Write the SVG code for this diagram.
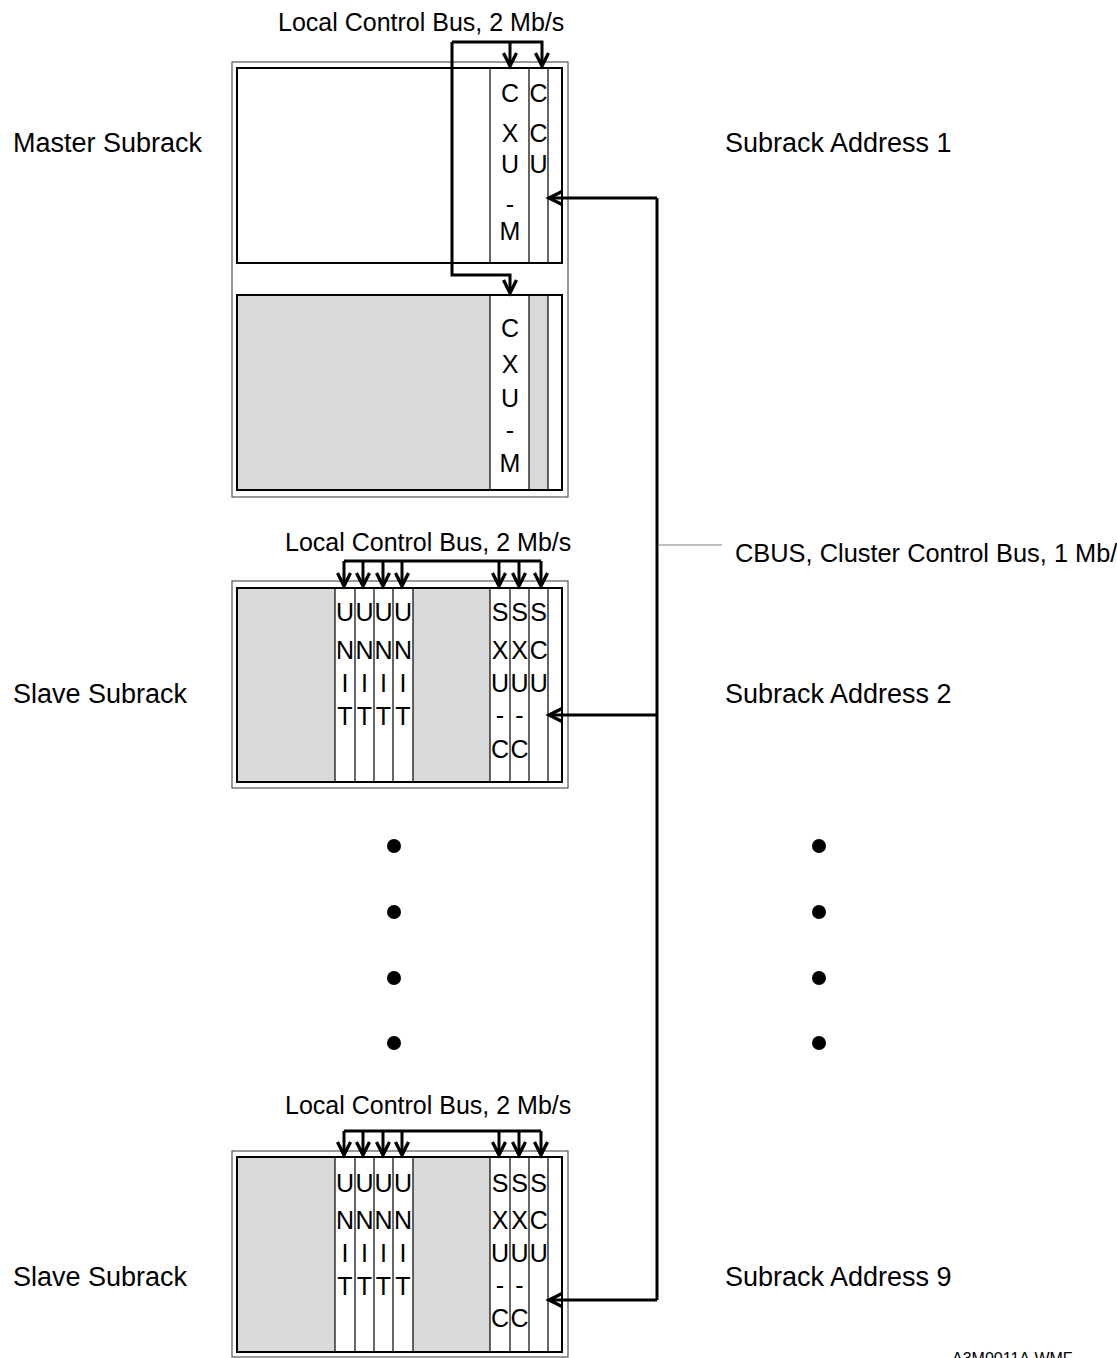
<svg xmlns="http://www.w3.org/2000/svg" width="1117" height="1358" viewBox="0 0 1117 1358">
<defs>
<style>
text{font-family:"Liberation Sans",Arial,Helvetica,sans-serif;fill:#000}
.lbl{font-size:27px}
.bus{font-size:25px}
.cbus{font-size:25.4px}
.col{font-size:25px;text-anchor:middle}
.outer{fill:#fff;stroke:#555;stroke-width:1.2}
.inner{fill:none;stroke:#000;stroke-width:2}
.bg{fill:#fff;stroke:none}
.gray{fill:#d9d9d9;stroke:none}
.div{stroke:#000;stroke-width:1.2;fill:none}
.wire{fill:none;stroke:#000;stroke-width:3}
.thin{fill:none;stroke:#808080;stroke-width:1}
.dot{fill:#000}
</style>
<marker id="arr" markerUnits="userSpaceOnUse" markerWidth="24" markerHeight="24" viewBox="-18 -12 24 24" refX="0" refY="0" orient="auto" overflow="visible">
<path d="M-13,-6.5 L0,0 L-13,6.5" fill="none" stroke="#000" stroke-width="3.3"/>
</marker>
</defs>
<rect width="1117" height="1358" fill="#fff"/>

<g id="master-subrack">
<rect class="outer" x="232" y="62" width="336" height="435"/>
<rect class="bg" x="237" y="68" width="325" height="195"/>
<line class="div" x1="490" y1="68" x2="490" y2="263"/>
<line class="div" x1="529" y1="68" x2="529" y2="263"/>
<line class="div" x1="548" y1="68" x2="548" y2="263"/>
<rect class="inner" x="237" y="68" width="325" height="195"/>
<text class="col" x="510" y="102">C</text>
<text class="col" x="510" y="142">X</text>
<text class="col" x="510" y="173">U</text>
<text class="col" x="510" y="213">-</text>
<text class="col" x="510" y="240">M</text>
<text class="col" x="538.5" y="102">C</text>
<text class="col" x="538.5" y="142">C</text>
<text class="col" x="538.5" y="173">U</text>
<rect class="bg" x="237" y="295" width="325" height="195"/>
<rect class="gray" x="237" y="295" width="253" height="195"/>
<rect class="gray" x="529" y="295" width="19" height="195"/>
<line class="div" x1="490" y1="295" x2="490" y2="490"/>
<line class="div" x1="529" y1="295" x2="529" y2="490"/>
<line class="div" x1="548" y1="295" x2="548" y2="490"/>
<rect class="inner" x="237" y="295" width="325" height="195"/>
<text class="col" x="510" y="337">C</text>
<text class="col" x="510" y="373">X</text>
<text class="col" x="510" y="407">U</text>
<text class="col" x="510" y="439">-</text>
<text class="col" x="510" y="472">M</text>
</g>

<g id="slave-subrack-2">
<rect class="outer" x="232" y="581" width="336" height="207"/>
<rect class="bg" x="237" y="588" width="325" height="194"/>
<rect class="gray" x="237" y="588" width="98" height="194"/>
<rect class="gray" x="413" y="588" width="77" height="194"/>
<g class="div">
<line x1="335" y1="588" x2="335" y2="782"/>
<line x1="355" y1="588" x2="355" y2="782"/>
<line x1="374" y1="588" x2="374" y2="782"/>
<line x1="393" y1="588" x2="393" y2="782"/>
<line x1="413" y1="588" x2="413" y2="782"/>
<line x1="490" y1="588" x2="490" y2="782"/>
<line x1="510" y1="588" x2="510" y2="782"/>
<line x1="529" y1="588" x2="529" y2="782"/>
<line x1="548" y1="588" x2="548" y2="782"/>
</g>
<rect class="inner" x="237" y="588" width="325" height="194"/>
<text class="col" x="345" y="621">U</text><text class="col" x="345" y="659">N</text><text class="col" x="345" y="692">I</text><text class="col" x="345" y="725">T</text>
<text class="col" x="364.5" y="621">U</text><text class="col" x="364.5" y="659">N</text><text class="col" x="364.5" y="692">I</text><text class="col" x="364.5" y="725">T</text>
<text class="col" x="383.5" y="621">U</text><text class="col" x="383.5" y="659">N</text><text class="col" x="383.5" y="692">I</text><text class="col" x="383.5" y="725">T</text>
<text class="col" x="403" y="621">U</text><text class="col" x="403" y="659">N</text><text class="col" x="403" y="692">I</text><text class="col" x="403" y="725">T</text>
<text class="col" x="500" y="621">S</text><text class="col" x="500" y="659">X</text><text class="col" x="500" y="692">U</text><text class="col" x="500" y="724">-</text><text class="col" x="500" y="758">C</text>
<text class="col" x="519.5" y="621">S</text><text class="col" x="519.5" y="659">X</text><text class="col" x="519.5" y="692">U</text><text class="col" x="519.5" y="724">-</text><text class="col" x="519.5" y="758">C</text>
<text class="col" x="538.7" y="621">S</text><text class="col" x="538.7" y="659">C</text><text class="col" x="538.7" y="692">U</text>
</g>

<g id="slave-subrack-9">
<rect class="outer" x="232" y="1151" width="336" height="206"/>
<rect class="bg" x="237" y="1157" width="325" height="195"/>
<rect class="gray" x="237" y="1157" width="98" height="195"/>
<rect class="gray" x="413" y="1157" width="77" height="195"/>
<g class="div">
<line x1="335" y1="1157" x2="335" y2="1352"/>
<line x1="355" y1="1157" x2="355" y2="1352"/>
<line x1="374" y1="1157" x2="374" y2="1352"/>
<line x1="393" y1="1157" x2="393" y2="1352"/>
<line x1="413" y1="1157" x2="413" y2="1352"/>
<line x1="490" y1="1157" x2="490" y2="1352"/>
<line x1="510" y1="1157" x2="510" y2="1352"/>
<line x1="529" y1="1157" x2="529" y2="1352"/>
<line x1="548" y1="1157" x2="548" y2="1352"/>
</g>
<rect class="inner" x="237" y="1157" width="325" height="195"/>
<text class="col" x="345" y="1192">U</text><text class="col" x="345" y="1229">N</text><text class="col" x="345" y="1262">I</text><text class="col" x="345" y="1295">T</text>
<text class="col" x="364.5" y="1192">U</text><text class="col" x="364.5" y="1229">N</text><text class="col" x="364.5" y="1262">I</text><text class="col" x="364.5" y="1295">T</text>
<text class="col" x="383.5" y="1192">U</text><text class="col" x="383.5" y="1229">N</text><text class="col" x="383.5" y="1262">I</text><text class="col" x="383.5" y="1295">T</text>
<text class="col" x="403" y="1192">U</text><text class="col" x="403" y="1229">N</text><text class="col" x="403" y="1262">I</text><text class="col" x="403" y="1295">T</text>
<text class="col" x="500" y="1192">S</text><text class="col" x="500" y="1229">X</text><text class="col" x="500" y="1262">U</text><text class="col" x="500" y="1294">-</text><text class="col" x="500" y="1327">C</text>
<text class="col" x="519.5" y="1192">S</text><text class="col" x="519.5" y="1229">X</text><text class="col" x="519.5" y="1262">U</text><text class="col" x="519.5" y="1294">-</text><text class="col" x="519.5" y="1327">C</text>
<text class="col" x="538.7" y="1192">S</text><text class="col" x="538.7" y="1229">C</text><text class="col" x="538.7" y="1262">U</text>
</g>

<g id="connectors">
<path class="wire" d="M452,42 H542 V66" marker-end="url(#arr)"/>
<path class="wire" d="M510,42 V66" marker-end="url(#arr)"/>
<path class="wire" d="M452,42 V275 H510 V293" marker-end="url(#arr)"/>
<path class="wire" d="M344,561 H541"/>
<path class="wire" d="M344,561 V586" marker-end="url(#arr)"/>
<path class="wire" d="M363,561 V586" marker-end="url(#arr)"/>
<path class="wire" d="M383,561 V586" marker-end="url(#arr)"/>
<path class="wire" d="M402,561 V586" marker-end="url(#arr)"/>
<path class="wire" d="M499,561 V586" marker-end="url(#arr)"/>
<path class="wire" d="M519,561 V586" marker-end="url(#arr)"/>
<path class="wire" d="M541,561 V586" marker-end="url(#arr)"/>
<path class="wire" d="M344,1131 H541"/>
<path class="wire" d="M344,1131 V1155" marker-end="url(#arr)"/>
<path class="wire" d="M363,1131 V1155" marker-end="url(#arr)"/>
<path class="wire" d="M383,1131 V1155" marker-end="url(#arr)"/>
<path class="wire" d="M402,1131 V1155" marker-end="url(#arr)"/>
<path class="wire" d="M499,1131 V1155" marker-end="url(#arr)"/>
<path class="wire" d="M519,1131 V1155" marker-end="url(#arr)"/>
<path class="wire" d="M541,1131 V1155" marker-end="url(#arr)"/>
<path class="wire" d="M657,198 V1300"/>
<path class="wire" d="M657,198 H549" marker-end="url(#arr)"/>
<path class="wire" d="M657,715 H549" marker-end="url(#arr)"/>
<path class="wire" d="M657,1300 H549" marker-end="url(#arr)"/>
<path class="thin" d="M659,545 H722"/>
</g>

<g id="labels">
<text class="bus" x="278" y="31">Local Control Bus, 2 Mb/s</text>
<text class="bus" x="285" y="551">Local Control Bus, 2 Mb/s</text>
<text class="bus" x="285" y="1114">Local Control Bus, 2 Mb/s</text>
<text class="cbus" x="735" y="562">CBUS, Cluster Control Bus, 1 Mb/s</text>
<text class="lbl" x="13" y="152">Master Subrack</text>
<text class="lbl" x="725" y="152">Subrack Address 1</text>
<text class="lbl" x="13" y="703">Slave Subrack</text>
<text class="lbl" x="725" y="703">Subrack Address 2</text>
<text class="lbl" x="13" y="1286">Slave Subrack</text>
<text class="lbl" x="725" y="1286">Subrack Address 9</text>
<text x="952" y="1364" font-size="16">A3M0011A.WMF</text>
</g>

<g id="dots">
<circle class="dot" cx="394" cy="846" r="7"/>
<circle class="dot" cx="394" cy="912" r="7"/>
<circle class="dot" cx="394" cy="978" r="7"/>
<circle class="dot" cx="394" cy="1043" r="7"/>
<circle class="dot" cx="819" cy="846" r="7"/>
<circle class="dot" cx="819" cy="912" r="7"/>
<circle class="dot" cx="819" cy="978" r="7"/>
<circle class="dot" cx="819" cy="1043" r="7"/>
</g>
</svg>
